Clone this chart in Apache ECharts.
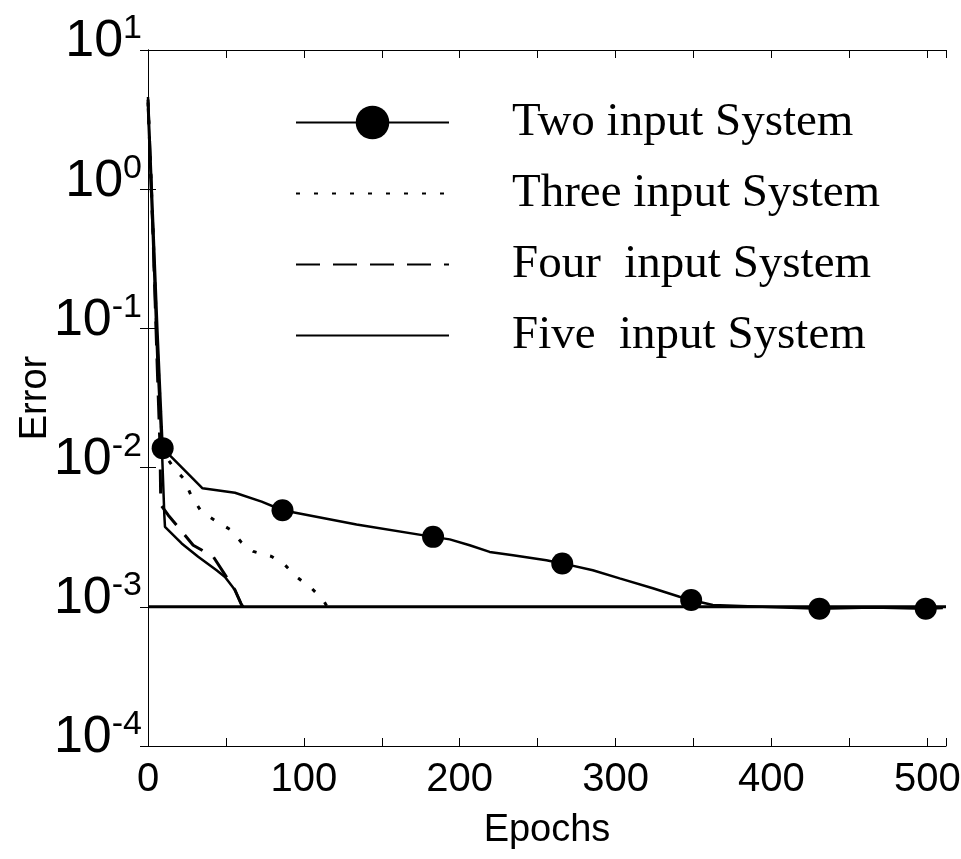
<!DOCTYPE html>
<html>
<head>
<meta charset="utf-8">
<script src="https://cdn.jsdelivr.net/npm/echarts@6/dist/echarts.min.js"></script>
<style>
html, body { margin: 0; padding: 0; background: #fff; }
#container { width: 961px; height: 859px; }
</style>
</head>
<body>
<div id="container"></div>
<script>
// data (epochs / error)
var twoX = [0, 3, 6, 9.4, 35, 55.8, 72.9, 86.3, 133.8, 182.9, 193.6, 206.4, 219.2, 234.2, 255.6, 265.8, 285.4, 302.6, 323.9, 341, 348.5, 362.4, 385, 430.8, 465, 499, 510];
var twoY = [4.6, 0.7, 0.1, 0.0138, 0.0071, 0.0066, 0.0057, 0.00494, 0.0039, 0.00318, 0.00305, 0.00277, 0.00248, 0.00235, 0.00216, 0.00205, 0.00183, 0.0016, 0.00136, 0.00118, 0.00112, 0.00103, 0.00101, 0.00097, 0.00099, 0.00097, 0.00098];
var twoMarkers = [9.4, 86.3, 182.9, 265.8, 348.5, 430.8, 499];

var threeX = [0, 3, 6, 9, 12, 17, 22.6, 28, 34.4, 44, 52.6, 60, 67.5, 79.3, 87.8, 95.3, 104.9, 112.4, 115];
var threeY = [4.2, 0.6, 0.07, 0.016, 0.0118, 0.0098, 0.0084, 0.0062, 0.0048, 0.0041, 0.0036, 0.0029, 0.0025, 0.0023, 0.002, 0.00164, 0.00136, 0.00112, 0.001];

var fourX = [0, 3, 6, 7.7, 8.2, 13, 23.7, 29, 41.9, 55.8, 60.1, 61];
var fourY = [4.4, 0.55, 0.05, 0.014, 0.0054, 0.00455, 0.00327, 0.00277, 0.00229, 0.00132, 0.00103, 0.001];

var fiveX = [0, 3, 6, 9, 10.5, 10.9, 21.6, 32.2, 44, 49.4, 55.8, 60.1, 61];
var fiveY = [3.8, 0.5, 0.06, 0.013, 0.0045, 0.00375, 0.00285, 0.00229, 0.00183, 0.00164, 0.00132, 0.00103, 0.001];

// performance goal line
var goalX = [0, 512];
var goalY = [0.001, 0.001];

var names = ['Two input System', 'Three input System', 'Four  input System', 'Five  input System'];

function pairs(xs, ys) {
    var out = [];
    for (var i = 0; i < xs.length; i++) {
        out.push([xs[i], ys[i]]);
    }
    return out;
}

var twoData = [];
for (var i = 0; i < twoX.length; i++) {
    twoData.push({
        value: [twoX[i], twoY[i]],
        symbol: twoMarkers.indexOf(twoX[i]) >= 0 ? 'circle' : 'none'
    });
}

var myChart = echarts.init(document.getElementById('container'));

var noSymbol = { color: 'rgba(0,0,0,0)', opacity: 0, borderWidth: 0 };

option = {
    backgroundColor: '#fff',
    animation: false,
    grid: {
        left: 148,
        right: 15,
        top: 50,
        bottom: 113,
        outerBoundsMode: 'none'
    },
    legend: {
        orient: 'vertical',
        left: 290,
        top: 94,
        itemWidth: 153,
        itemHeight: 42,
        itemGap: 24,
        textStyle: {
            fontFamily: 'Liberation Serif',
            fontSize: 47,
            color: '#000',
            padding: [0, 0, 0, 58]
        },
        data: [
            { name: names[0] },
            { name: names[1], itemStyle: noSymbol },
            { name: names[2], itemStyle: noSymbol },
            { name: names[3], itemStyle: noSymbol }
        ]
    },
    xAxis: [
        {
            type: 'value',
            min: 0,
            max: 512,
            interval: 50,
            name: 'Epochs',
            nameLocation: 'middle',
            nameGap: 66,
            nameTextStyle: { fontFamily: 'Liberation Sans', fontSize: 38, color: '#000' },
            axisLine: { show: true, lineStyle: { color: '#000', width: 1 } },
            axisTick: { show: true, inside: true, length: 8, lineStyle: { color: '#000' } },
            axisLabel: {
                margin: 14,
                fontFamily: 'Liberation Sans',
                fontSize: 40,
                color: '#000',
                formatter: function (v) {
                    return v % 100 === 0 ? String(v) : '';
                }
            },
            splitLine: { show: false }
        },
        {
            type: 'value',
            position: 'top',
            min: 0,
            max: 512,
            interval: 50,
            axisLine: { show: true, lineStyle: { color: '#000', width: 1 } },
            axisTick: { show: true, inside: true, length: 8, lineStyle: { color: '#000' } },
            axisLabel: { show: false },
            splitLine: { show: false }
        }
    ],
    yAxis: [
        {
            type: 'log',
            logBase: 10,
            min: 0.0001,
            max: 10,
            name: 'Error',
            nameLocation: 'middle',
            nameRotate: 90,
            nameGap: 93,
            nameMoveOverlap: false,
            nameTextStyle: { fontFamily: 'Liberation Sans', fontSize: 38, color: '#000' },
            axisLine: { show: true, lineStyle: { color: '#000', width: 1 } },
            axisTick: { show: true, inside: true, length: 8, lineStyle: { color: '#000' } },
            axisLabel: {
                margin: 6,
                color: '#000',
                padding: [0, 0, 16, 0],
                formatter: function (v) {
                    var e = Math.round(Math.log(v) / Math.LN10);
                    return '{b|10}{e|' + e + '}';
                },
                rich: {
                    b: { fontFamily: 'Liberation Sans', fontSize: 52, lineHeight: 60, color: '#000' },
                    e: { fontFamily: 'Liberation Sans', fontSize: 34, lineHeight: 24, verticalAlign: 'top', color: '#000' }
                }
            },
            splitLine: { show: false }
        },
        {
            type: 'log',
            logBase: 10,
            min: 0.0001,
            max: 10,
            position: 'right',
            axisLine: { show: true, lineStyle: { color: '#000', width: 1 } },
            axisTick: { show: true, inside: true, length: 8, lineStyle: { color: '#000' } },
            axisLabel: { show: false },
            splitLine: { show: false }
        }
    ],
    series: [
        {
            name: 'Goal',
            type: 'line',
            color: '#000',
            symbol: 'none',
            silent: true,
            lineStyle: { width: 3, color: '#000' },
            data: pairs(goalX, goalY)
        },
        {
            name: names[0],
            type: 'line',
            color: '#000',
            symbol: 'circle',
            symbolSize: 22,
            showAllSymbol: true,
            lineStyle: { width: 2.5, color: '#000' },
            itemStyle: { color: '#000' },
            data: twoData
        },
        {
            name: names[1],
            type: 'line',
            color: '#000',
            symbol: 'none',
            lineStyle: { width: 3, color: '#000', type: [4, 14] },
            data: pairs(threeX, threeY)
        },
        {
            name: names[2],
            type: 'line',
            color: '#000',
            symbol: 'none',
            lineStyle: { width: 3, color: '#000', type: [24, 13] },
            data: pairs(fourX, fourY)
        },
        {
            name: names[3],
            type: 'line',
            color: '#000',
            symbol: 'none',
            lineStyle: { width: 2.5, color: '#000' },
            data: pairs(fiveX, fiveY)
        }
    ]
};
myChart.setOption(option);
</script>
</body>
</html>
